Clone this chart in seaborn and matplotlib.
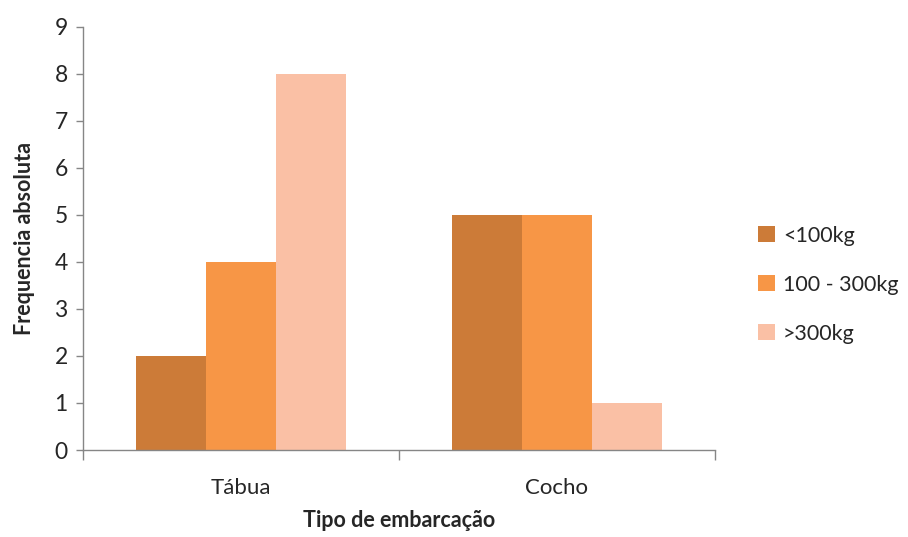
import matplotlib
matplotlib.use("Agg")
import matplotlib.pyplot as plt
import seaborn as sns
import pandas as pd
from matplotlib.patches import Patch

categories = ["Tábua", "Cocho"]
groups = ["<100kg", "100 - 300kg", ">300kg"]
values_lt100 = [2, 5]
values_100_300 = [4, 5]
values_gt300 = [8, 1]
colors = ["#CC7B38", "#F79646", "#FAC0A5"]

rows = []
for g, vals in zip(groups, [values_lt100, values_100_300, values_gt300]):
    for c, v in zip(categories, vals):
        rows.append({"Tipo": c, "Peso": g, "Freq": v})
df = pd.DataFrame(rows)

sns.set_style("white")
plt.rcParams["font.family"] = ["Lato", "DejaVu Sans"]

fig = plt.figure(figsize=(9.08, 5.37), dpi=100)
ax = fig.add_axes([0.0914, 0.162, 0.696, 0.788])
sns.barplot(data=df, x="Tipo", y="Freq", hue="Peso", hue_order=groups,
            palette=colors, width=0.665, saturation=1, ax=ax, legend=False,
            linewidth=0)

ax.set_ylim(0, 9)
ax.set_xlim(-0.5, 1.5)
ax.set_yticks(range(0, 10))
ax.tick_params(axis="y", labelsize=16.5, length=5, color="#868686", width=1, pad=6, direction="out", left=True)
ax.tick_params(axis="x", which="major", length=0, labelsize=16, pad=20)
ax.set_xticks([-0.5, 0.5, 1.5], minor=True)
ax.tick_params(axis="x", which="minor", length=7, color="#868686", width=1, direction="out", bottom=True)
for s in ["top", "right"]:
    ax.spines[s].set_visible(False)
for s in ["left", "bottom"]:
    ax.spines[s].set_color("#868686")
    ax.spines[s].set_linewidth(1)
for lab in ax.get_xticklabels() + ax.get_yticklabels():
    lab.set_color("#262626")

ax.set_xlabel("Tipo de embarcação", fontsize=15.5, fontweight="bold", labelpad=9)
ax.set_ylabel("Frequencia absoluta", fontsize=15.5, fontweight="bold", labelpad=14)

handles = [Patch(facecolor=c, edgecolor="none") for c in colors]
fig.legend(handles, groups, loc="center left", bbox_to_anchor=(0.835, 0.47),
           frameon=False, fontsize=15.5, handlelength=0.8, handleheight=0.8,
           handletextpad=0.35, labelspacing=1.35, borderaxespad=0, borderpad=0)

fig.savefig("out.png", dpi=100, facecolor="white")
